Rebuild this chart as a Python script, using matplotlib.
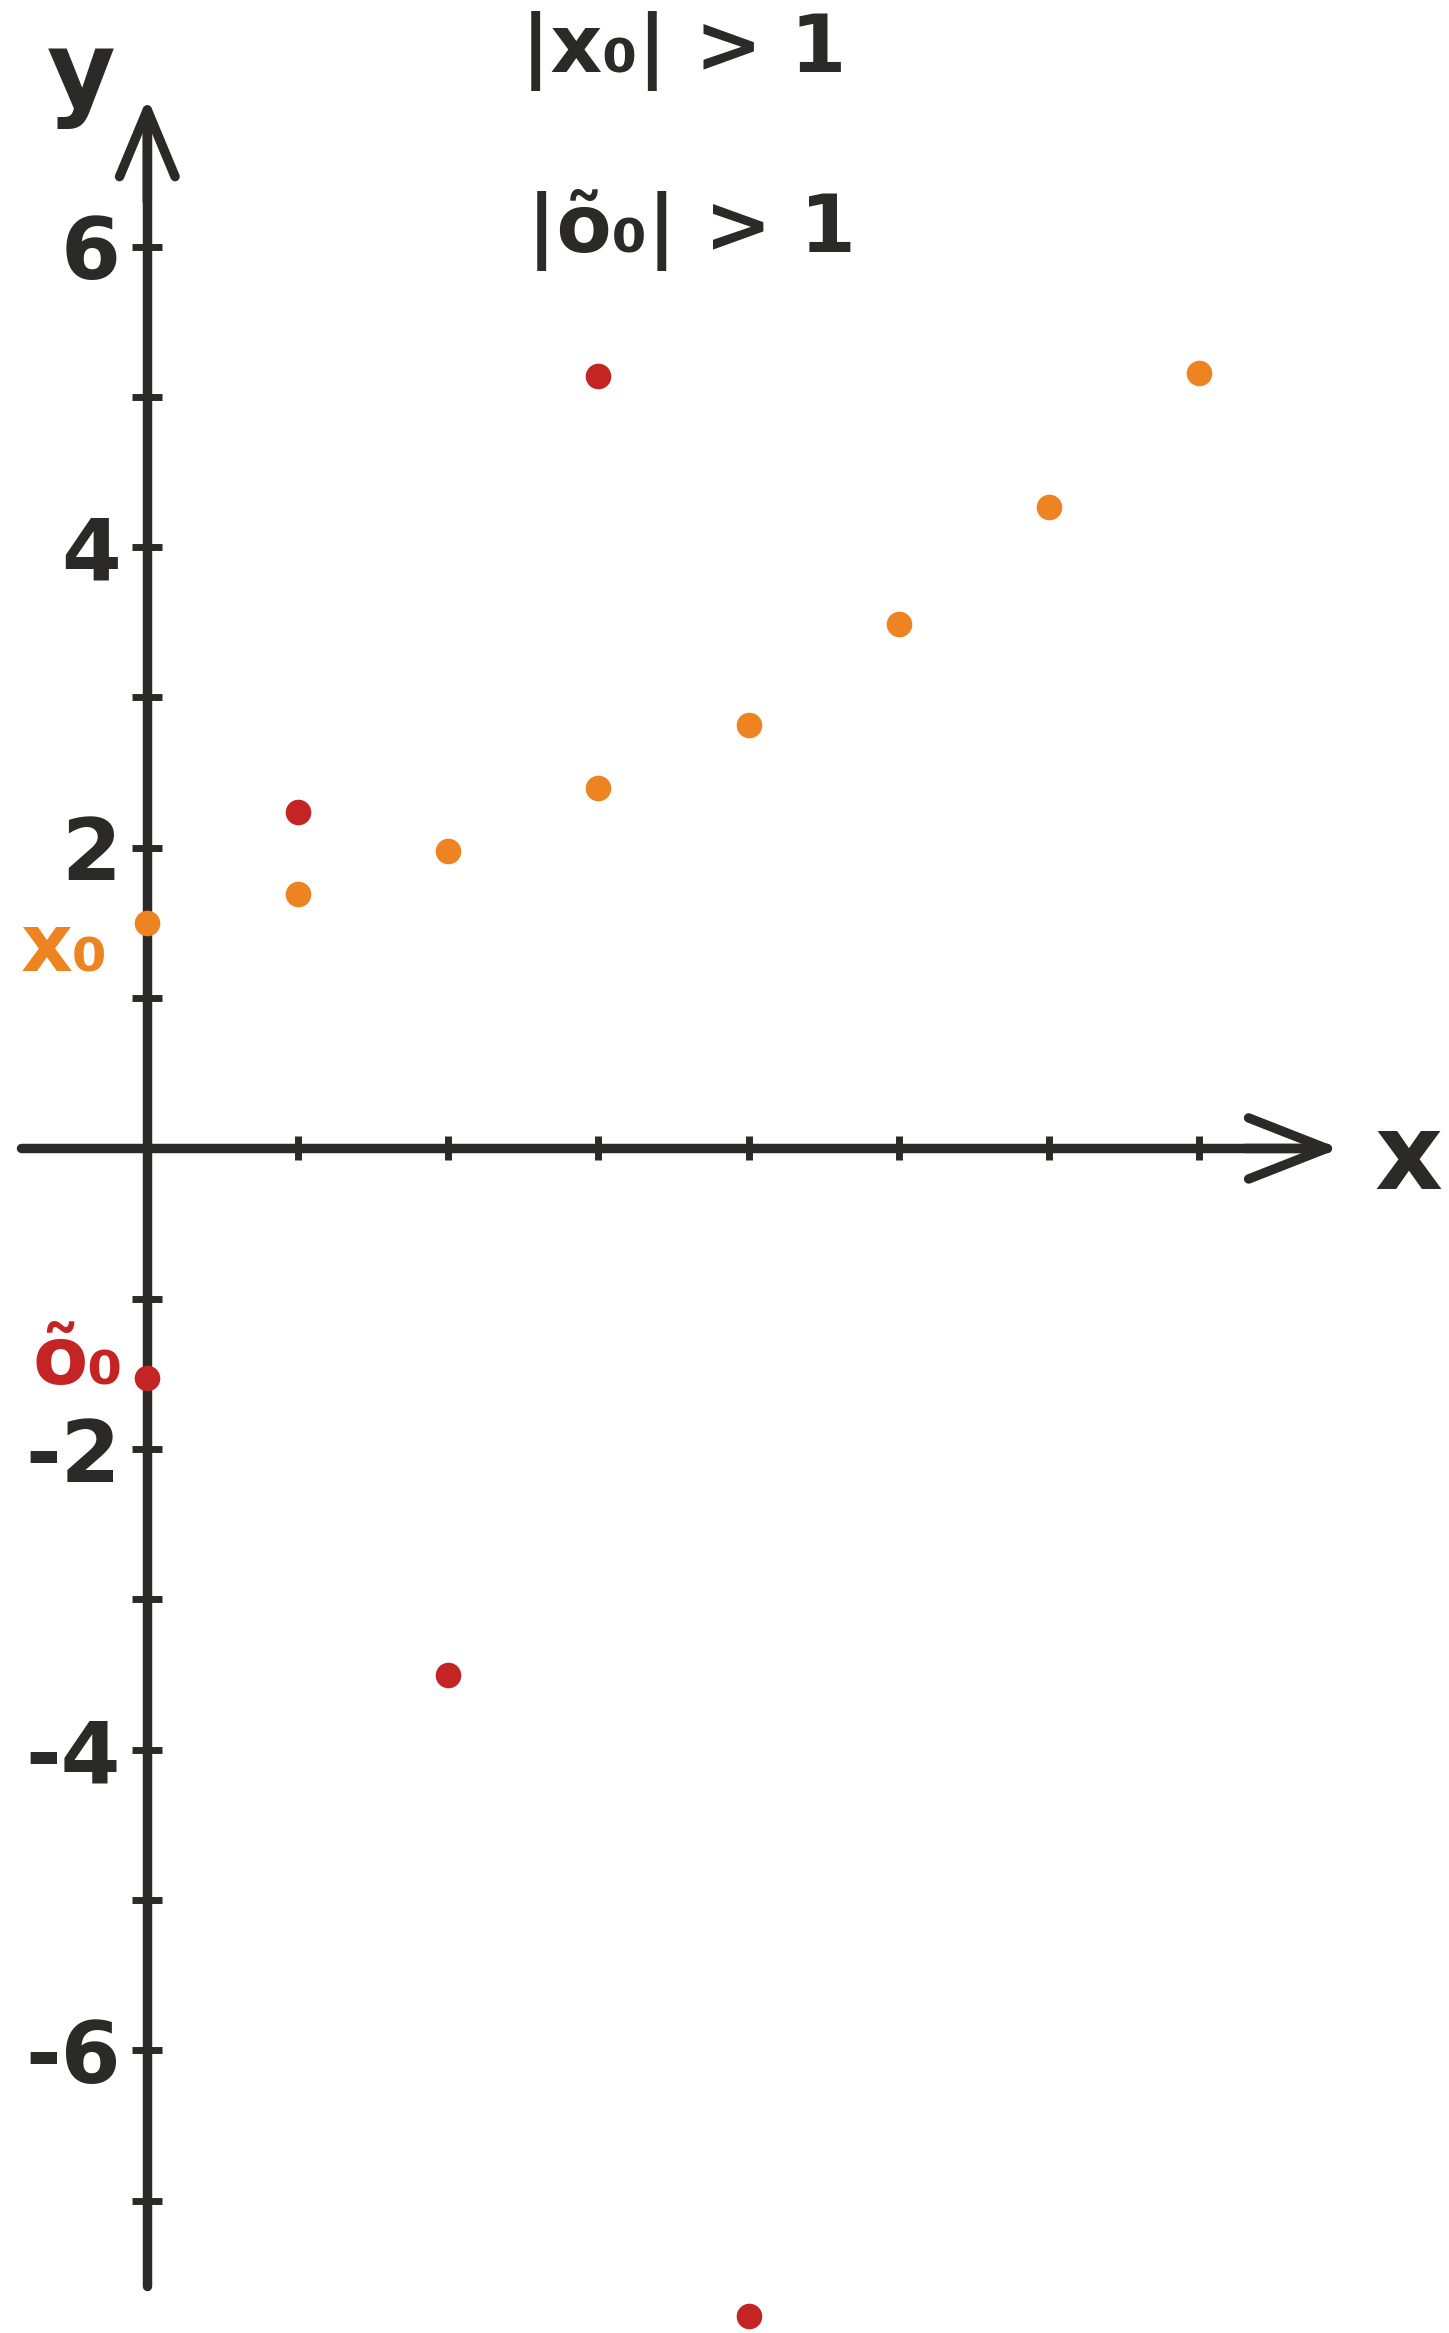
import matplotlib
matplotlib.use("Agg")
import matplotlib.pyplot as plt
import numpy as np

# data
n_x = [0, 1, 2, 3, 4, 5, 6, 7]
x_vals = [1.5, 1.69, 1.98, 2.40, 2.82, 3.49, 4.27, 5.16]
n_o = [0, 1, 2, 3, 4]
o_vals = [-1.53, 2.24, -3.5, 5.14, -7.77]
y_major = [-6, -4, -2, 2, 4, 6]
y_major_labels = ["-6", "-4", "-2", "2", "4", "6"]
y_minor = [-7, -5, -3, -1, 1, 3, 5]
x_ticks = [1, 2, 3, 4, 5, 6, 7]

DARK = "#2b2a28"
ORANGE = "#ee8421"
RED = "#c42424"

plt.rcParams['font.family'] = ['DejaVu Sans']

fig = plt.figure(figsize=(14.49, 23.33), dpi=100)
ax = fig.add_axes([0, 0, 1, 1])
ax.set_xlim(-0.98, 8.66)
ax.set_ylim(-7.88, 7.64)

LW = 6.8
for s in ['top', 'right']:
    ax.spines[s].set_visible(False)
ax.spines['left'].set_position(('data', 0))
ax.spines['bottom'].set_position(('data', 0))
ax.spines['left'].set_bounds(-7.57, 6.9)
ax.spines['bottom'].set_bounds(-0.84, 7.85)
for s in ['left', 'bottom']:
    ax.spines[s].set_linewidth(LW)
    ax.spines[s].set_color(DARK)
    ax.spines[s].set_capstyle('round')

ax.set_yticks(y_major)
ax.set_yticklabels(y_major_labels)
ax.set_yticks(y_minor, minor=True)
ax.set_xticks(x_ticks)
ax.set_xticklabels([])
ax.tick_params(axis='y', which='both', direction='inout', length=22, width=5,
               color=DARK, labelsize=62, labelcolor=DARK, pad=8)
ax.tick_params(axis='x', which='both', direction='inout', length=17, width=5,
               color=DARK)
for lab in ax.get_yticklabels():
    lab.set_fontweight('bold')

# arrowheads
ax.annotate("", xy=(7.93, 0.0), xytext=(7.3, 0.0),
            arrowprops=dict(arrowstyle="->,head_length=1.4,head_width=0.55",
                            lw=LW, color=DARK, capstyle='round', joinstyle='round',
                            shrinkA=0, shrinkB=0, mutation_scale=40))
ax.annotate("", xy=(0.0, 6.99), xytext=(0.0, 6.3),
            arrowprops=dict(arrowstyle="->,head_length=1.2,head_width=0.5",
                            lw=LW, color=DARK, capstyle='round', joinstyle='round',
                            shrinkA=0, shrinkB=0, mutation_scale=40))

ax.scatter(n_x, x_vals, s=340, color=ORANGE, zorder=5, linewidths=0)
ax.scatter(n_o, o_vals, s=340, color=RED, zorder=5, linewidths=0, clip_on=False)

ax.text(8.39, -0.08, "x", fontsize=76, fontweight='bold', color=DARK,
        ha='center', va='center')
ax.text(-0.44, 7.12, "y", fontsize=76, fontweight='bold', color=DARK,
        ha='center', va='center')
ax.text(3.57, 7.30, "|x₀| > 1", fontsize=58, fontweight='bold', color=DARK,
        ha='center', va='center')
ax.text(3.62, 6.11, "|õ₀| > 1", fontsize=58, fontweight='bold', color=DARK,
        ha='center', va='center')
ax.text(-0.55, 1.33, "x₀", fontsize=58, fontweight='bold', color=ORANGE,
        ha='center', va='center')
ax.text(-0.46, -1.42, "õ₀", fontsize=58, fontweight='bold', color=RED,
        ha='center', va='center')

fig.savefig("out.png", dpi=100, facecolor='white')
